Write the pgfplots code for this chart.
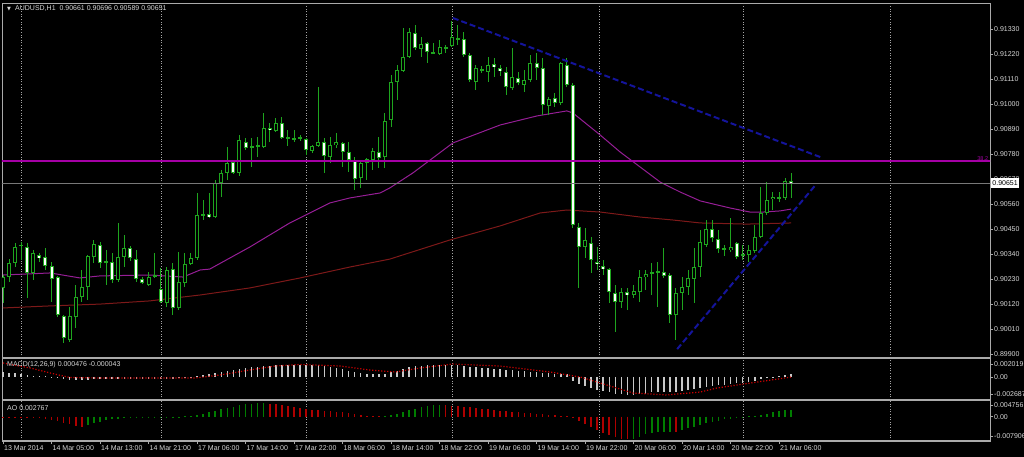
\documentclass[border=0pt]{standalone}
\usepackage{fontspec}
\setmainfont{Liberation Sans}
\newfontfamily\dejavu{DejaVu Sans}
\usepackage{pgfplots}
\usepackage{pgfplotstable}
\pgfplotsset{compat=1.18}
\definecolor{candle}{RGB}{30,165,30}
\definecolor{frame}{RGB}{170,170,170}
\definecolor{gridc}{RGB}{165,165,165}
\definecolor{lbl}{RGB}{215,215,215}
\definecolor{maMag}{RGB}{150,30,150}
\definecolor{fibo}{RGB}{165,0,165}
\definecolor{maRed}{RGB}{125,25,25}
\definecolor{tl}{RGB}{20,20,155}
\definecolor{bidc}{RGB}{120,120,120}
\definecolor{macdh}{RGB}{200,200,200}
\definecolor{sig}{RGB}{205,0,0}
\definecolor{aoG}{RGB}{0,125,0}
\definecolor{aoR}{RGB}{175,0,0}
\newcommand\lbfont{\fontsize{7}{8.4}\selectfont}

\pgfplotstableread{
i o h l c
0 0.90191 0.90248 0.90125 0.90239
1 0.90239 0.90318 0.90217 0.90301
2 0.90301 0.90389 0.90283 0.90371
3 0.90376 0.90393 0.90314 0.90380
5 0.90257 0.90358 0.90226 0.90345
11 0.89962 0.90107 0.89953 0.90068
12 0.90063 0.90204 0.90015 0.90151
13 0.90151 0.90270 0.90129 0.90195
14 0.90195 0.90336 0.90138 0.90332
15 0.90327 0.90402 0.90301 0.90384
17 0.90305 0.90358 0.90204 0.90310
19 0.90226 0.90477 0.90217 0.90327
20 0.90327 0.90424 0.90283 0.90367
24 0.90204 0.90261 0.90200 0.90239
25 0.90244 0.90345 0.90235 0.90248
27 0.90125 0.90283 0.90107 0.90270
29 0.90103 0.90349 0.90094 0.90217
30 0.90213 0.90345 0.90195 0.90296
31 0.90296 0.90345 0.90292 0.90323
32 0.90323 0.90609 0.90314 0.90512
33 0.90512 0.90578 0.90490 0.90516
35 0.90503 0.90666 0.90499 0.90653
36 0.90653 0.90710 0.90591 0.90697
37 0.90697 0.90811 0.90666 0.90741
39 0.90697 0.90864 0.90684 0.90842
41 0.90811 0.90851 0.90723 0.90816
42 0.90816 0.90855 0.90767 0.90820
43 0.90811 0.90961 0.90807 0.90895
45 0.90882 0.90939 0.90877 0.90917
47 0.90851 0.90886 0.90816 0.90855
48 0.90846 0.90886 0.90833 0.90851
49 0.90851 0.90864 0.90838 0.90855
51 0.90794 0.90820 0.90785 0.90816
52 0.90816 0.91075 0.90811 0.90833
54 0.90767 0.90855 0.90741 0.90820
55 0.90820 0.90873 0.90807 0.90833
59 0.90675 0.90754 0.90631 0.90741
60 0.90741 0.90763 0.90666 0.90758
61 0.90754 0.90807 0.90710 0.90794
63 0.90767 0.90961 0.90719 0.90926
64 0.90930 0.91128 0.90899 0.91097
65 0.91097 0.91172 0.91018 0.91150
66 0.91146 0.91335 0.91141 0.91207
67 0.91207 0.91335 0.91203 0.91317
69 0.91242 0.91295 0.91207 0.91264
71 0.91225 0.91269 0.91220 0.91229
72 0.91220 0.91282 0.91216 0.91251
73 0.91247 0.91260 0.91225 0.91251
74 0.91256 0.91366 0.91251 0.91295
78 0.91097 0.91172 0.91062 0.91159
79 0.91150 0.91168 0.91137 0.91154
80 0.91141 0.91207 0.91097 0.91172
84 0.91071 0.91247 0.91062 0.91119
86 0.91084 0.91150 0.91053 0.91106
87 0.91106 0.91216 0.91097 0.91181
90 0.90992 0.91031 0.90952 0.91022
92 0.91005 0.91185 0.90996 0.91181
96 0.90371 0.90455 0.90323 0.90402
102 0.90129 0.90191 0.90103 0.90173
104 0.90160 0.90204 0.90147 0.90178
105 0.90173 0.90270 0.90129 0.90239
106 0.90239 0.90270 0.90182 0.90252
107 0.90257 0.90301 0.90160 0.90261
108 0.90261 0.90305 0.90107 0.90266
111 0.90072 0.90191 0.89962 0.90169
112 0.90169 0.90239 0.90094 0.90195
113 0.90195 0.90270 0.90160 0.90235
114 0.90230 0.90367 0.90125 0.90283
115 0.90283 0.90446 0.90239 0.90393
116 0.90380 0.90490 0.90371 0.90450
119 0.90362 0.90380 0.90332 0.90367
120 0.90358 0.90499 0.90349 0.90371
122 0.90336 0.90380 0.90314 0.90340
123 0.90336 0.90380 0.90305 0.90358
124 0.90354 0.90468 0.90345 0.90415
125 0.90415 0.90635 0.90411 0.90521
126 0.90521 0.90657 0.90512 0.90578
127 0.90582 0.90613 0.90534 0.90591
128 0.90587 0.90613 0.90569 0.90591
129 0.90587 0.90675 0.90578 0.90662
}\bull

\pgfplotstableread{
i o h l c
4 0.90371 0.90389 0.90147 0.90257
6 0.90336 0.90345 0.90305 0.90323
7 0.90327 0.90367 0.90270 0.90288
8 0.90288 0.90305 0.90129 0.90230
9 0.90239 0.90244 0.90063 0.90072
10 0.90068 0.90072 0.89949 0.89971
16 0.90380 0.90393 0.90279 0.90301
18 0.90305 0.90345 0.90213 0.90226
21 0.90367 0.90376 0.90310 0.90323
22 0.90318 0.90358 0.90217 0.90230
23 0.90230 0.90239 0.90208 0.90213
26 0.90186 0.90279 0.90125 0.90129
28 0.90274 0.90301 0.90072 0.90103
34 0.90516 0.90609 0.90499 0.90503
38 0.90745 0.90754 0.90692 0.90697
40 0.90833 0.90851 0.90798 0.90807
44 0.90895 0.90917 0.90833 0.90886
46 0.90917 0.90943 0.90846 0.90851
50 0.90846 0.90851 0.90776 0.90798
53 0.90833 0.90851 0.90697 0.90772
56 0.90829 0.90833 0.90723 0.90789
57 0.90789 0.90833 0.90701 0.90754
58 0.90754 0.90767 0.90622 0.90670
62 0.90789 0.90855 0.90719 0.90763
68 0.91313 0.91348 0.91238 0.91247
70 0.91269 0.91273 0.91181 0.91229
75 0.91291 0.91348 0.91260 0.91286
76 0.91286 0.91317 0.91207 0.91216
77 0.91216 0.91225 0.91097 0.91106
81 0.91176 0.91203 0.91119 0.91163
82 0.91159 0.91172 0.91124 0.91146
83 0.91141 0.91163 0.91040 0.91075
85 0.91115 0.91141 0.91084 0.91093
88 0.91181 0.91225 0.91106 0.91159
89 0.91159 0.91203 0.90952 0.90996
91 0.91027 0.91049 0.90987 0.91005
93 0.91172 0.91203 0.91075 0.91084
94 0.91084 0.91093 0.90455 0.90468
95 0.90459 0.90477 0.90191 0.90371
97 0.90389 0.90415 0.90257 0.90314
98 0.90305 0.90371 0.90270 0.90296
99 0.90288 0.90314 0.90248 0.90274
100 0.90274 0.90279 0.90125 0.90173
101 0.90169 0.90204 0.89997 0.90129
103 0.90173 0.90191 0.90094 0.90160
109 0.90261 0.90367 0.90235 0.90244
110 0.90248 0.90257 0.90037 0.90072
117 0.90450 0.90490 0.90393 0.90411
118 0.90406 0.90446 0.90345 0.90362
121 0.90389 0.90393 0.90318 0.90327
130 0.90661 0.90696 0.90589 0.90651
}\bear

\pgfplotstableread{
i v
0 0.000785
1 0.000628
2 0.000628
3 0.000471
4 0.000314
5 0.000157
6 0.000157
7 0.000078
8 -0.000078
9 -0.000235
10 -0.000392
11 -0.000471
12 -0.000471
13 -0.000471
14 -0.000471
15 -0.000392
16 -0.000392
17 -0.000392
18 -0.000392
19 -0.000314
20 -0.000314
21 -0.000314
22 -0.000314
23 -0.000314
24 -0.000314
25 -0.000314
26 -0.000314
27 -0.000314
28 -0.000314
29 -0.000235
30 -0.000157
31 -0.000078
32 0.000157
33 0.000235
34 0.000393
35 0.00055
36 0.000706
37 0.000864
38 0.001021
39 0.001178
40 0.001335
41 0.001492
42 0.00157
43 0.001649
44 0.001727
45 0.001806
46 0.001884
47 0.001884
48 0.001884
49 0.001884
50 0.001884
51 0.001884
52 0.001806
53 0.001727
54 0.00157
55 0.001413
56 0.001178
57 0.000942
58 0.000706
59 0.00055
60 0.000471
61 0.000393
62 0.000393
63 0.000471
64 0.000706
65 0.000942
66 0.001256
67 0.001492
68 0.001649
69 0.001727
70 0.001806
71 0.001806
72 0.001884
73 0.001884
74 0.001884
75 0.001806
76 0.001727
77 0.00157
78 0.001492
79 0.001413
80 0.001335
81 0.001256
82 0.001178
83 0.001099
84 0.001021
85 0.000942
86 0.000864
87 0.000785
88 0.000785
89 0.000628
90 0.00055
91 0.000471
92 0.000471
93 0.000393
94 -0.000628
95 -0.001099
96 -0.001413
97 -0.001727
98 -0.002041
99 -0.002198
100 -0.002434
101 -0.002669
102 -0.002748
103 -0.002826
104 -0.002826
105 -0.002748
106 -0.002669
107 -0.002434
108 -0.002355
109 -0.002355
110 -0.002355
111 -0.002355
112 -0.002198
113 -0.002041
114 -0.001884
115 -0.001727
116 -0.00157
117 -0.001413
118 -0.001335
119 -0.001256
120 -0.001099
121 -0.001021
122 -0.000942
123 -0.000785
124 -0.000628
125 -0.000393
126 -0.000235
127 -0.000078
128 0.000078
129 0.000314
130 0.000476
}\macd

\pgfplotstableread{
i v
14 -0.003268
15 -0.002655
16 -0.002043
17 -0.00143
18 -0.001021
19 -0.000817
20 -0.000613
21 -0.00049
22 -0.000409
23 -0.000327
24 -0.000245
25 -0.000204
26 -0.000163
27 -0.000123
28 -0.000082
29 0.000082
30 0.000204
31 0.000409
32 0.000817
33 0.001226
34 0.001838
35 0.002451
36 0.003064
37 0.003677
38 0.004085
39 0.004698
40 0.005106
41 0.005311
42 0.005433
43 0.005515
63 0.000204
64 0.000613
65 0.001226
66 0.001838
67 0.002655
68 0.003268
69 0.003881
70 0.004289
71 0.004698
72 0.004902
104 -0.008987
105 -0.00817
106 -0.007149
107 -0.006536
108 -0.006332
109 -0.006209
110 -0.006128
112 -0.005311
113 -0.004779
114 -0.004289
115 -0.003391
116 -0.002737
117 -0.002043
118 -0.001634
119 -0.001103
120 -0.000735
121 -0.000286
122 -0.000123
123 0.000123
124 0.000286
125 0.000613
126 0.001226
127 0.002043
128 0.002451
129 0.002655
130 0.002767
}\aogreen

\pgfplotstableread{
i v
0 -0.000204
1 -0.000225
2 -0.000245
3 -0.000286
4 -0.000327
5 -0.000409
6 -0.000613
7 -0.000817
8 -0.001226
9 -0.001838
10 -0.002451
11 -0.003064
12 -0.003677
13 -0.004085
44 0.005311
45 0.005106
46 0.004902
47 0.004494
48 0.004085
49 0.003677
50 0.003268
51 0.00286
52 0.002655
53 0.002451
54 0.002247
55 0.002043
56 0.001838
57 0.001634
58 0.001226
59 0.000817
60 0.000409
61 0.000204
62 0.000123
73 0.004698
74 0.004494
75 0.004289
76 0.004085
77 0.003881
78 0.003677
79 0.003268
80 0.003064
81 0.00286
82 0.002451
83 0.002247
84 0.002043
85 0.001838
86 0.001634
87 0.00143
88 0.001226
89 0.001021
90 0.000817
91 0.000613
92 0.000409
93 0.000204
94 -0.000409
95 -0.001634
96 -0.00286
97 -0.004085
98 -0.005311
99 -0.006536
100 -0.007557
101 -0.008374
102 -0.008987
103 -0.009191
111 -0.00625
}\aored

\pgfplotsset{
  chartbase/.style={scale only axis, width=988pt, xmin=-0.165, xmax=162.8,
    anchor=north west,
    scaled y ticks=false, scaled x ticks=false,
    axis line style={draw=frame, line width=0.8pt},
    xtick=\empty,
    extra x ticks={3.1,26.2,50.1,74.2,98.3,122.2,146.3},
    extra x tick labels={},
    extra x tick style={xmajorgrids=true, major tick length=0pt, tick style={draw=none}},
    major grid style={draw=gridc, line width=0.8pt, dash pattern=on 1pt off 1.6pt},
    ytick pos=right, yticklabel pos=right, tick align=outside, major tick length=3pt,
    tick style={draw=frame, line width=0.6pt},
    yticklabel style={font=\lbfont, text=lbl, anchor=west, inner sep=0pt, xshift=1pt}},
  wick/.style={draw=none, error bars/y dir=both, error bars/y explicit,
    error bars/error mark=none,
    error bars/error bar style={draw=candle, line width=1pt, solid}},
  body/.style={draw=none, error bars/y dir=both, error bars/y explicit,
    error bars/error mark=none,
    error bars/error bar style={draw=candle, line width=4pt, solid}},
  inner/.style={draw=none, error bars/y dir=both, error bars/y explicit,
    error bars/error mark=none,
    error bars/error bar style={draw=#1, line width=2pt, solid}},
}

\begin{document}
\begin{tikzpicture}
\path[use as bounding box] (0,0) rectangle (1024pt,-457pt);
\clip (0,0) rectangle (1024pt,-457pt);
\fill[black] (0,0) rectangle (1024pt,-457pt);

% ---------------- main price panel ----------------
\begin{axis}[chartbase, name=main, at={(2pt,-3pt)}, height=355pt,
  ymin=0.898828, ymax=0.914448,
  ytick={0.89900,0.90010,0.90120,0.90230,0.90340,0.90450,0.90560,0.90670,0.90780,0.90890,0.91000,0.91110,0.91220,0.91330},
  yticklabels={0.89900,0.90010,0.90120,0.90230,0.90340,0.90450,0.90560,0.90670,0.90780,0.90890,0.91000,0.91110,0.91220,0.91330}]
\addplot[maRed, line width=1pt] coordinates {(0,0.90103) (7.8,0.90112) (16,0.90120) (24.2,0.90134) (32.5,0.90160) (40.7,0.90191) (49,0.90235) (57.2,0.90283) (63.8,0.90318) (73.7,0.90402) (82,0.90464) (88.6,0.90521) (93,0.90534) (98.5,0.90525) (105.1,0.90503) (110.5,0.90490) (115,0.90477) (122.7,0.90472) (130,0.90477)};
\addplot[maMag, line width=1pt] coordinates {(0,0.90248) (7.8,0.90257) (12.7,0.90235) (16,0.90244) (24.2,0.90248) (29.7,0.90239) (32.5,0.90270) (34.1,0.90274) (40.7,0.90371) (47.3,0.90477) (53.9,0.90565) (57.2,0.90587) (62.2,0.90609) (63.8,0.90631) (67.6,0.90697) (74.2,0.90829) (82,0.90908) (88.1,0.90948) (93,0.90970) (94,0.90961) (98.5,0.90864) (101.8,0.90789) (105.1,0.90723) (108.4,0.90657) (111.7,0.90613) (115,0.90574) (119.9,0.90543) (123.2,0.90525) (125.4,0.90525) (128.2,0.90530) (130,0.90538)};
\addplot[wick] table[x=i, y expr={(\thisrow{h}+\thisrow{l})/2}, y error expr={(\thisrow{h}-\thisrow{l})/2}] {\bull};
\addplot[wick] table[x=i, y expr={(\thisrow{h}+\thisrow{l})/2}, y error expr={(\thisrow{h}-\thisrow{l})/2}] {\bear};
\addplot[body] table[x=i, y expr={(\thisrow{o}+\thisrow{c})/2}, y error expr={max(abs(\thisrow{c}-\thisrow{o})/2,0.000022)}] {\bull};
\addplot[body] table[x=i, y expr={(\thisrow{o}+\thisrow{c})/2}, y error expr={max(abs(\thisrow{c}-\thisrow{o})/2,0.000022)}] {\bear};
\addplot[inner=black] table[x=i, y expr={(\thisrow{o}+\thisrow{c})/2}, y error expr={max(abs(\thisrow{c}-\thisrow{o})/2-0.000044,0)}] {\bull};
\addplot[inner=white] table[x=i, y expr={(\thisrow{o}+\thisrow{c})/2}, y error expr={max(abs(\thisrow{c}-\thisrow{o})/2-0.000044,0)}] {\bear};
\addplot[fibo, line width=1.3pt] coordinates {(-1,0.90750) (170,0.90750)};
\addplot[bidc, line width=0.9pt] coordinates {(-1,0.90651) (170,0.90651)};
\addplot[tl, line width=2pt, dash pattern=on 6pt off 3pt] coordinates {(74.2,0.91379) (134.8,0.90767)};
\addplot[tl, line width=2pt, dash pattern=on 6pt off 3pt] coordinates {(111.2,0.89922) (133.9,0.90640)};
\node[anchor=center, text=lbl, inner sep=0pt, font=\dejavu\fontsize{5}{5}\selectfont, xshift=7pt, yshift=-6pt] at (rel axis cs:0,1) {▼};
\node[anchor=west, text=lbl, inner sep=0pt, font=\lbfont, xshift=13pt, yshift=-6pt] at (rel axis cs:0,1) {AUDUSD,H1\ \ 0.90661 0.90696 0.90589 0.90651};
\node[anchor=south east, text=fibo, inner sep=0.5pt, font=\fontsize{5.5}{6}\selectfont] at (axis cs:162.6,0.90750) {38.2};
\coordinate (bidpt) at (axis cs:162.8,0.90651);
\end{axis}

% ---------------- MACD panel ----------------
\begin{axis}[chartbase, name=macd, at={(2pt,-358pt)}, height=42pt,
  ymin=-0.003639, ymax=0.002949,
  ytick={-0.002687,0,0.002019}, yticklabels={-0.002687,0.00,0.002019}]
\addplot[ycomb, macdh, line width=1.5pt] table[x=i, y=v] {\macd};
\addplot[sig, line width=1.2pt, dash pattern=on 1.2pt off 1.8pt] coordinates {(0,0.002165) (4.5,0.00138) (7.8,0.000596) (11,-0.00011) (16,-0.000188) (31.7,-0.000188) (35.8,0.000282) (40.7,0.001067) (44.9,0.001694) (49,0.00193) (55.6,0.001694) (60.5,0.001067) (64.7,0.000753) (68.8,0.00138) (74.2,0.002008) (82,0.001694) (90.2,0.000753) (95.2,-0.000031) (98.5,-0.000973) (103.9,-0.002541) (109.5,-0.002855) (115,-0.002384) (117.8,-0.001757) (122.2,-0.001129) (130,-0.000043)};
\node[anchor=west, text=lbl, inner sep=0pt, font=\lbfont, xshift=5pt, yshift=-7pt] at (rel axis cs:0,1) {MACD(12,26,9) 0.000476 -0.000043};
\end{axis}

% ---------------- AO panel ----------------
\begin{axis}[chartbase, name=ao, at={(2pt,-400pt)}, height=41pt,
  ymin=-0.009926, ymax=0.006822,
  ytick={-0.007906,0,0.004756}, yticklabels={-0.007906,0.00,0.004756},
  xtick={0,8,16,24,32,40,48,56,64,72,80,88,96,104,112,120,128},
  xticklabels={13 Mar 2014,14 Mar 05:00,14 Mar 13:00,14 Mar 21:00,17 Mar 06:00,17 Mar 14:00,17 Mar 22:00,18 Mar 06:00,18 Mar 14:00,18 Mar 22:00,19 Mar 06:00,19 Mar 14:00,19 Mar 22:00,20 Mar 06:00,20 Mar 14:00,20 Mar 22:00,21 Mar 06:00},
  xtick pos=bottom,
  xticklabel style={font=\lbfont, text=lbl, anchor=north west, inner sep=0pt, xshift=1pt, yshift=-1.5pt}]
\addplot[ycomb, aoG, line width=1.6pt] table[x=i, y=v] {\aogreen};
\addplot[ycomb, aoR, line width=1.6pt] table[x=i, y=v] {\aored};
\node[anchor=west, text=lbl, inner sep=0pt, font=\lbfont, xshift=5pt, yshift=-8pt] at (rel axis cs:0,1) {AO 0.002767};
\end{axis}

\draw[frame, line width=2pt] (macd.north west) -- (macd.north east);
\draw[frame, line width=2pt] (ao.north west) -- (ao.north east);
\draw[frame, line width=2pt] (ao.south west) -- (ao.south east);
\node[fill=white, text=black, anchor=west, inner sep=1.2pt, font=\lbfont, minimum height=10pt] at ([xshift=1pt]bidpt) {0.90651};
\end{tikzpicture}
\end{document}
